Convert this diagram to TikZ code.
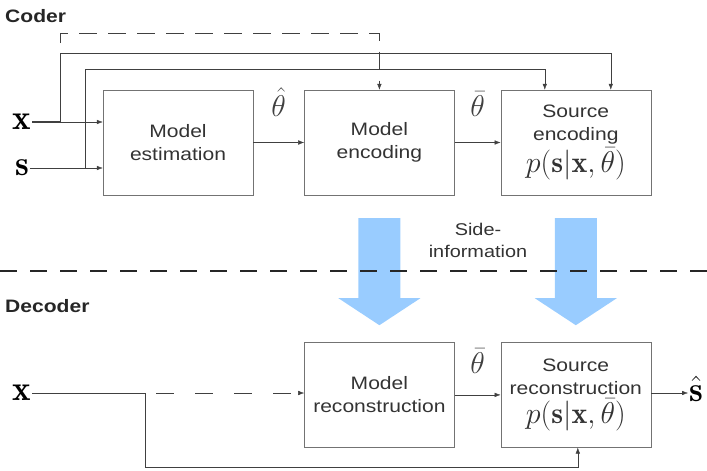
\RequirePackage{fix-cm}
\documentclass[tikz,border=0pt]{standalone}
\usepackage{amsmath}
\usepackage{fontspec}
\setsansfont{Liberation Sans}[FakeStretch=1.17]
\usepackage{tikz}
\usetikzlibrary{arrows.meta, calc, positioning}
\definecolor{sideblue}{RGB}{153,204,255}
\tikzset{
    box/.style={rectangle, draw=black!55, thin, align=center,
        minimum width=150pt, minimum height=105pt, inner sep=2pt,
        font=\sffamily\fontsize{18}{23}\selectfont, text=black!80},
    arrow/.style={-{Latex[length=6pt, width=4.5pt]}, black!75, thin},
    dashline/.style={dash pattern=on 18pt off 11pt},
    sepline/.style={line width=2.5pt, black!85, dash pattern=on 17pt off 13pt},
    mathlbl/.style={inner sep=1pt, font=\fontsize{30}{34}\selectfont},
    iolbl/.style={inner sep=1pt, font=\fontsize{35}{40}\selectfont},
    sectionlbl/.style={anchor=west, inner sep=0pt,
        font=\sffamily\bfseries\fontsize{18}{22}\selectfont, text=black!85},
    sidetext/.style={align=center, inner sep=0pt,
        font=\sffamily\fontsize{17}{22}\selectfont, text=black!80},
    sidearrow/.style={fill=sideblue, draw=none},
}
\newcommand{\pmodel}{{\fontsize{30}{34}\selectfont$p(\mathbf{s}|\mathbf{x},\bar{\theta})$}}

\begin{document}
\begin{tikzpicture}[x=1pt, y=-1pt]
    \useasboundingbox (0,0) rectangle (707,471);

    % coder
    \node[sectionlbl] (coder) at (5,16) {Coder};
    \node[box] (est) at (178,142.5) {Model\\estimation};
    \node[box, right=51pt of est] (enc) {Model\\encoding};
    \node[box, right=46pt of enc] (src) {Source\\encoding\\[3pt]\pmodel};
    \node[iolbl] (xin) at (22,122) {$\mathbf{x}$};
    \node[iolbl] (sin) at (22,168) {$\mathbf{s}$};
    \coordinate (xj) at (60,122);
    \coordinate (sj) at (85,168);
    \coordinate (xtop) at (60,53);

    \draw[arrow] (xin.east) -- (xin.east -| est.west);
    \draw[arrow] (sin.east) -- (sin.east -| est.west);
    \draw[black!75, line width=1.2pt] (xin.east) -- (xj);
    \draw[arrow] (xj) |- ($(src.north)+(35,-37)$) -- ($(src.north)+(35,0)$);
    \draw[arrow] (sj) |- ($(src.north)+(-31,-21)$) -- ($(src.north)+(-31,0)$);
    \draw[arrow, dashline, dash phase=19pt] (xtop) -- ++(0,-20) -| (enc.north);
    \draw[arrow] (est) -- node[mathlbl, above=25pt] {$\hat{\theta}$} (enc);
    \draw[arrow] (enc) -- node[mathlbl, above=25pt] {$\bar{\theta}$} (src);

    % side-information
    \foreach \b in {enc, src} {
        \fill[sidearrow] ($(\b.south)+(-21,23)$) -- ($(\b.south)+(21,23)$)
            -- ($(\b.south)+(21,103)$) -- ($(\b.south)+(41,103)$)
            -- ($(\b.south)+(0,130)$) -- ($(\b.south)+(-41,103)$)
            -- ($(\b.south)+(-21,103)$) -- cycle;
    }
    \node[sidetext] (side) at (478,240) {Side-\\information};
    \coordinate (sepl) at (0,271);
    \coordinate (sepr) at (707,271);
    \draw[sepline] (sepl) -- (sepr);

    % decoder
    \node[sectionlbl] (decoder) at (5,306) {Decoder};
    \node[box, below=147pt of enc] (rec) {Model\\reconstruction};
    \node[box, right=46pt of rec] (srec) {Source\\reconstruction\\[3pt]\pmodel};
    \node[iolbl] (xdec) at (22,393) {$\mathbf{x}$};
    \node[iolbl, anchor=west] (shat) at (688,389) {$\hat{\mathbf{s}}$};
    \coordinate (xdj) at (145,393);

    \draw[black!75] (xdec.east) -- (xdj);
    \draw[arrow, dash pattern=on 18pt off 21pt, dash phase=28pt] (xdj) -- (xdj -| rec.west);
    \draw[arrow] (xdj) |- ($(srec.south)+(2,20)$) -- ($(srec.south)+(2,0)$);
    \draw[arrow] (rec) -- node[mathlbl, above=20pt] {$\bar{\theta}$} (srec);
    \draw[arrow] (srec.east |- xdj) -- (shat.west |- xdj);
\end{tikzpicture}
\end{document}
